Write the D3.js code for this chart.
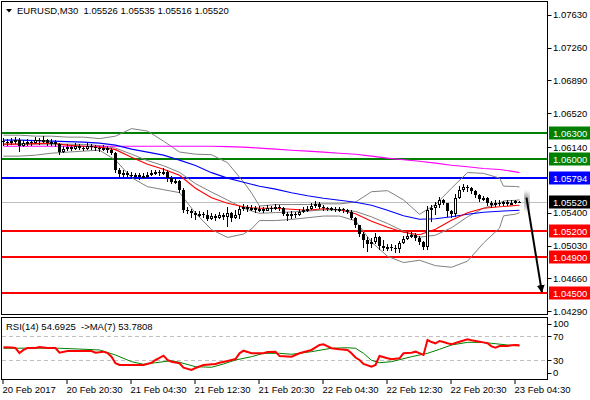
<!DOCTYPE html>
<html>
<head>
<meta charset="utf-8">
<script src="https://cdn.jsdelivr.net/npm/d3@7"></script>
<style>
body { margin: 0; background: #fff; }
text { font-family: "Liberation Sans", Arial, sans-serif; font-size: 9.5px; fill: #000; }
</style>
</head>
<body>
<script>
// EURUSD M30 candles, open of each bar = close of the bar before
const firstOpen = 1.06206;
const closes = [1.06195,1.06184,1.06206,1.06218,1.06150,1.06184,1.06195,1.06184,1.06218,1.06206,
  1.06218,1.06184,1.06195,1.06173,1.06082,1.06116,1.06139,1.06116,1.06150,1.06127,
  1.06116,1.06150,1.06139,1.06127,1.06116,1.06127,1.06105,1.06071,1.05879,1.05834,
  1.05846,1.05823,1.05812,1.05823,1.05801,1.05812,1.05823,1.05846,1.05857,1.05846,
  1.05857,1.05789,1.05744,1.05756,1.05654,1.05428,1.05417,1.05394,1.05372,1.05383,
  1.05372,1.05327,1.05361,1.05338,1.05372,1.05349,1.05394,1.05338,1.05372,1.05440,
  1.05462,1.05440,1.05451,1.05428,1.05440,1.05417,1.05451,1.05440,1.05462,1.05451,
  1.05383,1.05361,1.05383,1.05372,1.05406,1.05428,1.05440,1.05473,1.05496,1.05462,
  1.05451,1.05440,1.05445,1.05428,1.05440,1.05428,1.05406,1.05338,1.05259,1.05157,
  1.05090,1.05045,1.05067,1.05124,1.05022,1.05000,1.05011,1.05000,1.04988,1.05056,
  1.05101,1.05135,1.05146,1.05112,1.05067,1.05011,1.05428,1.05451,1.05485,1.05541,
  1.05507,1.05417,1.05383,1.05564,1.05654,1.05688,1.05676,1.05643,1.05597,1.05552,
  1.05564,1.05507,1.05485,1.05507,1.05496,1.05518,1.05496,1.05507,1.05526,1.05520];
const highs = [1.06240,1.06229,1.06240,1.06252,1.06240,1.06218,1.06229,1.06218,1.06252,1.06240,
  1.06263,1.06229,1.06229,1.06218,1.06184,1.06150,1.06173,1.06161,1.06184,1.06173,
  1.06150,1.06184,1.06173,1.06161,1.06150,1.06161,1.06150,1.06127,1.06082,1.05902,
  1.05879,1.05868,1.05857,1.05846,1.05846,1.05846,1.05857,1.05879,1.05879,1.05879,
  1.05902,1.05879,1.05812,1.05789,1.05767,1.05676,1.05462,1.05440,1.05417,1.05417,
  1.05406,1.05428,1.05394,1.05383,1.05406,1.05394,1.05462,1.05406,1.05428,1.05473,
  1.05496,1.05485,1.05485,1.05473,1.05473,1.05462,1.05485,1.05473,1.05496,1.05485,
  1.05462,1.05406,1.05417,1.05406,1.05440,1.05462,1.05473,1.05507,1.05530,1.05518,
  1.05485,1.05462,1.05462,1.05462,1.05462,1.05451,1.05440,1.05428,1.05349,1.05259,
  1.05180,1.05124,1.05112,1.05169,1.05135,1.05090,1.05045,1.05045,1.05033,1.05078,
  1.05135,1.05180,1.05180,1.05169,1.05135,1.05078,1.05473,1.05485,1.05518,1.05575,
  1.05552,1.05462,1.05428,1.05609,1.05699,1.05722,1.05710,1.05688,1.05654,1.05609,
  1.05586,1.05575,1.05530,1.05541,1.05541,1.05530,1.05541,1.05541,1.05541,1.05535];
const lows = [1.06150,1.06150,1.06161,1.06173,1.06082,1.06139,1.06150,1.06150,1.06173,1.06161,
  1.06184,1.06150,1.06150,1.06139,1.06049,1.06071,1.06094,1.06094,1.06105,1.06105,
  1.06094,1.06105,1.06105,1.06094,1.06082,1.06094,1.06071,1.06049,1.05846,1.05801,
  1.05801,1.05789,1.05789,1.05778,1.05767,1.05778,1.05789,1.05812,1.05823,1.05812,
  1.05823,1.05744,1.05722,1.05722,1.05620,1.05394,1.05383,1.05338,1.05315,1.05349,
  1.05338,1.05304,1.05315,1.05304,1.05327,1.05315,1.05237,1.05293,1.05327,1.05327,
  1.05417,1.05406,1.05417,1.05394,1.05406,1.05394,1.05417,1.05406,1.05428,1.05417,
  1.05361,1.05304,1.05327,1.05338,1.05361,1.05394,1.05406,1.05428,1.05451,1.05440,
  1.05417,1.05417,1.05417,1.05406,1.05406,1.05394,1.05383,1.05315,1.05225,1.05124,
  1.05000,1.04954,1.05000,1.05045,1.04977,1.04966,1.04966,1.04966,1.04943,1.04943,
  1.05045,1.05090,1.05112,1.05078,1.05033,1.04977,1.04977,1.05293,1.05372,1.05451,
  1.05485,1.05349,1.05338,1.05349,1.05552,1.05631,1.05631,1.05609,1.05564,1.05518,
  1.05530,1.05473,1.05451,1.05462,1.05473,1.05473,1.05473,1.05485,1.05496,1.05516];

// indicator lines, read at these bar positions
const lineBars = [0,4,8,12,16,20,24,28,32,36,40,44,48,52,56,60,62,64,68,72,76,80,84,88,92,96,100,104,108,112,116,120,124,125,128,129];
const bbUpper = [1.06274,1.06274,1.06263,1.06263,1.06252,1.06252,1.06235,1.06263,1.06348,1.06320,
  1.06207,1.06084,1.06060,1.06054,1.05964,1.05747,1.05624,1.05476,1.05492,1.05493,
  1.05493,1.05501,1.05500,1.05520,1.05637,1.05649,1.05545,1.05383,1.05493,1.05677,
  1.05853,1.05844,1.05791,1.05700,1.05696,1.05691];
const bbMid = [1.06173,1.06173,1.06173,1.06173,1.06173,1.06170,1.06157,1.06128,1.06060,1.05988,
  1.05930,1.05856,1.05728,1.05633,1.05543,1.05453,1.05421,1.05394,1.05402,1.05409,
  1.05419,1.05432,1.05432,1.05415,1.05354,1.05279,1.05192,1.05124,1.05148,1.05231,
  1.05354,1.05451,1.05507,1.05533,1.05540,1.05546];
const bbLower = [1.06038,1.06038,1.06049,1.06071,1.06083,1.06094,1.06105,1.05993,1.05795,1.05694,
  1.05660,1.05627,1.05395,1.05211,1.05122,1.05160,1.05218,1.05312,1.05312,1.05325,
  1.05344,1.05363,1.05363,1.05309,1.05070,1.04910,1.04839,1.04865,1.04804,1.04786,
  1.04855,1.05059,1.05227,1.05365,1.05385,1.05401];
const maRed = [1.06173,1.06173,1.06179,1.06184,1.06162,1.06150,1.06139,1.06111,1.06026,1.05947,
  1.05891,1.05823,1.05677,1.05570,1.05508,1.05468,1.05457,1.05451,1.05451,1.05440,
  1.05429,1.05446,1.05434,1.05389,1.05304,1.05237,1.05181,1.05152,1.05214,1.05315,
  1.05401,1.05451,1.05468,1.05470,1.05482,1.05485];
const maBlue = [1.06218,1.06218,1.06213,1.06207,1.06201,1.06196,1.06184,1.06162,1.06117,1.06083,
  1.06049,1.05993,1.05932,1.05852,1.05790,1.05744,1.05722,1.05699,1.05666,1.05626,
  1.05592,1.05564,1.05541,1.05519,1.05485,1.05429,1.05367,1.05327,1.05333,1.05355,
  1.05383,1.05406,1.05417,1.05420,1.05426,1.05429];
const maMagenta = [1.06150,1.06150,1.06150,1.06150,1.06150,1.06150,1.06150,1.06150,1.06150,1.06150,
  1.06150,1.06150,1.06150,1.06150,1.06145,1.06139,1.06134,1.06128,1.06117,1.06105,
  1.06094,1.06083,1.06071,1.06060,1.06038,1.06015,1.05998,1.05981,1.05959,1.05936,
  1.05919,1.05899,1.05888,1.05882,1.05861,1.05852];

// RSI(14) and its MA(7)
const rsiBars = [0,2,3,4,5,6,8,9,11,13,14,16,19,22,23,25,26,27,28,29,35,37,38,39,40,41,42,44,45,47,48,50,53,54,56,58,59,60,62,65,66,68,69,72,74,77,79,80,82,84,86,87,88,89,90,92,93,94,96,97,99,100,102,103,105,106,107,108,109,110,111,112,113,114,115,116,117,118,119,120,121,122,123,124,126,127,128,129];
const rsiVals = [51.4,51.1,50.2,42.0,47.0,50.2,50.2,51.9,50.2,50.2,42.5,45.3,45.3,45.3,42.5,44.2,42.0,35.9,25.1,22.3,22.3,26.0,30.5,33.8,37.6,30.5,27.7,25.1,17.8,14.0,17.3,22.3,23.9,26.0,28.8,32.1,41.5,45.8,41.5,41.5,43.7,44.2,37.1,35.9,41.5,47.0,55.2,56.3,49.8,48.1,47.0,41.5,34.6,30.5,23.9,19.5,22.3,37.1,33.3,31.6,33.3,41.5,42.5,44.2,38.7,63.4,60.0,58.0,61.8,60.0,58.0,56.3,58.5,60.6,62.5,64.6,63.0,61.8,60.6,59.5,58.0,53.0,50.7,53.5,53.5,54.7,55.0,54.69];
const rsiMaBars = [0,7,14,19,24,28,32,35,38,42,44,48,52,55,58,62,65,69,72,77,82,86,88,90,92,94,97,102,106,109,112,116,119,122,126,129];
const rsiMaVals = [49.8,50.0,49.8,48.5,47.0,38.7,27.7,23.4,26.0,29.3,26.7,19.5,18.5,23.9,30.5,35.9,41.5,41.5,39.9,44.2,49.8,50.7,49.8,41.5,30.0,26.0,27.7,35.9,41.5,48.1,55.2,59.6,59.6,58.0,55.2,53.78];

// support / resistance levels
const levelValues = [1.06300, 1.06000, 1.05794, 1.05200, 1.04900, 1.04500];
const levelColors = ['#008000', '#008000', '#0000ff', '#ff0000', '#ff0000', '#ff0000'];
const lastPrice = 1.05520;

// 1.05770 sits under the 1.05794 tag, so it is not listed
const priceTicks = ['1.07630','1.07260','1.06890','1.06520','1.06140','1.05400','1.05030','1.04660','1.04290'];
const rsiTicks = [100, 70, 30, 0];
const timeBars = [0,16,32,48,64,80,96,112,128];
const timeLabels = ['20 Feb 2017','20 Feb 20:30','21 Feb 04:30','21 Feb 12:30','21 Feb 20:30','22 Feb 04:30','22 Feb 12:30','22 Feb 20:30','23 Feb 04:30'];

// forecast arrow: from (bar, price) to (bar, price)
const arrowBars = [130.75, 134.6];
const arrowPrices = [1.05570, 1.04505];

let w = 590;
let h = 400;
let right = 547.5;

let svg = d3.select('body').append('svg')
  .attr('width', w)
  .attr('height', h);

let defs = svg.append('defs');
defs.append('clipPath').attr('id', 'mainClip')
  .append('rect').attr('x', 2).attr('y', 2).attr('width', 545).attr('height', 312);
defs.append('clipPath').attr('id', 'rsiClip')
  .append('rect').attr('x', 2).attr('y', 318).attr('width', 545).attr('height', 61);
defs.append('filter').attr('id', 'blur')
  .attr('x', '-50%').attr('y', '-50%').attr('width', '200%').attr('height', '200%')
  .append('feGaussianBlur').attr('stdDeviation', 2.2);
defs.append('marker').attr('id', 'head')
  .attr('viewBox', '0 0 10 10').attr('refX', 9).attr('refY', 5)
  .attr('markerWidth', 4).attr('markerHeight', 4).attr('orient', 'auto')
  .append('path').attr('d', 'M0,0 L10,5 L0,10 Z').attr('fill', '#000');

// scales
let x = d3.scaleLinear().domain([0, 129]).range([3.5, 519.5]);
let y = d3.scaleLinear().domain([1.04290, 1.07630]).range([311.3, 14.8]);
let yR = d3.scaleLinear().domain([0, 100]).range([378.5, 317.8]);

// panel frames
svg.append('rect').attr('x', 1.5).attr('y', 1.5).attr('width', right - 1.5).attr('height', 313)
  .attr('fill', 'none').attr('stroke', '#000');
svg.append('rect').attr('x', 1.5).attr('y', 317.5).attr('width', right - 1.5).attr('height', 62)
  .attr('fill', 'none').attr('stroke', '#000');

let main = svg.append('g').attr('clip-path', 'url(#mainClip)');

// current price line
main.append('line')
  .attr('x1', 2).attr('x2', right)
  .attr('y1', Math.round(y(lastPrice)) + 0.5).attr('y2', Math.round(y(lastPrice)) + 0.5)
  .attr('stroke', '#c0c0c0').attr('stroke-width', 1);

// levels
main.selectAll('.level')
  .data(levelValues)
  .enter()
  .append('line')
  .attr('class', 'level')
  .attr('x1', 2).attr('x2', right)
  .attr('y1', (d) => Math.round(y(d)))
  .attr('y2', (d) => Math.round(y(d)))
  .attr('stroke', (d, i) => levelColors[i])
  .attr('stroke-width', 2);

// indicator lines
let line = d3.line()
  .x((d) => x(d[0]))
  .y((d) => y(d[1]));

function series(vals) {
  return lineBars.map((b, i) => [b, vals[i]]);
}

[[bbUpper, '#808080', 1], [bbMid, '#808080', 1], [bbLower, '#808080', 1],
 [maMagenta, '#ff00ff', 1.1], [maBlue, '#0000ff', 1.1], [maRed, '#ff0000', 1.1]]
  .forEach((s) => {
    main.append('path')
      .attr('d', line(series(s[0])))
      .attr('fill', 'none')
      .attr('stroke', s[1])
      .attr('stroke-width', s[2]);
  });

// candles
let bars = closes.map((c, i) => ({
  i: i,
  o: i === 0 ? firstOpen : closes[i - 1],
  h: highs[i],
  l: lows[i],
  c: c
}));

let candles = main.append('g').attr('shape-rendering', 'crispEdges');

candles.selectAll('.wick')
  .data(bars)
  .enter()
  .append('line')
  .attr('class', 'wick')
  .attr('x1', (d) => x(d.i)).attr('x2', (d) => x(d.i))
  .attr('y1', (d) => y(Math.max(d.h, d.o, d.c)))
  .attr('y2', (d) => y(Math.min(d.l, d.o, d.c)))
  .attr('stroke', '#000');

candles.selectAll('.body')
  .data(bars)
  .enter()
  .append('rect')
  .attr('class', 'body')
  .attr('x', (d) => d.c >= d.o ? x(d.i) - 1 : x(d.i) - 1.5)
  .attr('y', (d) => d.c >= d.o ? y(d.c) : y(d.o))
  .attr('width', (d) => d.c >= d.o ? 2 : 3)
  .attr('height', (d) => Math.max(1, Math.abs(y(d.c) - y(d.o)) - (d.c >= d.o ? 1 : 0)))
  .attr('fill', (d) => d.c >= d.o ? '#fff' : '#000')
  .attr('stroke', (d) => d.c >= d.o ? '#000' : 'none');

// forecast arrow with soft shadow at its start
let ax0 = x(arrowBars[0]), ay0 = y(arrowPrices[0]);
let ax1 = x(arrowBars[1]), ay1 = y(arrowPrices[1]);
svg.append('line')
  .attr('x1', ax0 - 1).attr('y1', ay0 - 4)
  .attr('x2', ax0 + (ax1 - ax0) * 0.12).attr('y2', ay0 + (ay1 - ay0) * 0.12)
  .attr('stroke', '#9a9a9a').attr('stroke-width', 6)
  .attr('filter', 'url(#blur)');
svg.append('line')
  .attr('x1', ax0).attr('y1', ay0)
  .attr('x2', ax1).attr('y2', ay1)
  .attr('stroke', '#000').attr('stroke-width', 2)
  .attr('marker-end', 'url(#head)');

// price axis
let pAxis = svg.append('g');
pAxis.selectAll('line')
  .data(priceTicks)
  .enter()
  .append('line')
  .attr('x1', right).attr('x2', right + 4)
  .attr('y1', (d) => Math.round(y(+d)) + 0.5)
  .attr('y2', (d) => Math.round(y(+d)) + 0.5)
  .attr('stroke', '#000');
pAxis.selectAll('text')
  .data(priceTicks)
  .enter()
  .append('text')
  .attr('x', 553)
  .attr('y', (d) => y(+d) + 3.5)
  .text((d) => d);

// level labels
let tags = svg.append('g');
let tagValues = levelValues.concat([lastPrice]);
let tagColors = levelColors.concat(['#000']);
tags.selectAll('rect')
  .data(tagValues)
  .enter()
  .append('rect')
  .attr('x', 549).attr('y', (d) => Math.round(y(d)) - 6.5)
  .attr('width', 41).attr('height', 13)
  .attr('fill', (d, i) => tagColors[i]);
tags.selectAll('text')
  .data(tagValues)
  .enter()
  .append('text')
  .attr('x', 553)
  .attr('y', (d) => Math.round(y(d)) + 3.5)
  .style('fill', '#fff')
  .text((d) => d.toFixed(5));

// title
svg.append('path').attr('d', 'M6,9 L12,9 L9,12.5 Z').attr('fill', '#000');
svg.append('text').attr('x', 17).attr('y', 14)
  .attr('xml:space', 'preserve')
  .text('EURUSD,M30  1.05526 1.05535 1.05516 1.05520');

// RSI panel
let rsi = svg.append('g').attr('clip-path', 'url(#rsiClip)');
rsi.selectAll('.guide')
  .data([70, 30])
  .enter()
  .append('line')
  .attr('class', 'guide')
  .attr('x1', 2).attr('x2', right)
  .attr('y1', (d) => Math.round(yR(d)) + 0.5)
  .attr('y2', (d) => Math.round(yR(d)) + 0.5)
  .attr('stroke', '#c0c0c0')
  .attr('stroke-dasharray', '4,3');

let rLine = d3.line()
  .x((d) => x(d[0]))
  .y((d) => yR(d[1]));

rsi.append('path')
  .attr('d', rLine(rsiMaBars.map((b, i) => [b, rsiMaVals[i]])))
  .attr('fill', 'none').attr('stroke', '#008000').attr('stroke-width', 1);
rsi.append('path')
  .attr('d', rLine(rsiBars.map((b, i) => [b, rsiVals[i]])))
  .attr('fill', 'none').attr('stroke', '#ff0000').attr('stroke-width', 2);

svg.append('text').attr('x', 6).attr('y', 329.5)
  .attr('xml:space', 'preserve')
  .text('RSI(14) 54.6925  ->MA(7) 53.7808');

// RSI axis, end labels kept inside the panel like the terminal does
let rPos = (d) => d === 100 ? yR(d) + 6 : d === 0 ? yR(d) - 6 : yR(d);
let rAxis = svg.append('g');
rAxis.selectAll('line')
  .data(rsiTicks)
  .enter()
  .append('line')
  .attr('x1', right).attr('x2', right + 4)
  .attr('y1', (d) => Math.round(rPos(d)) + 0.5)
  .attr('y2', (d) => Math.round(rPos(d)) + 0.5)
  .attr('stroke', '#000');
rAxis.selectAll('text')
  .data(rsiTicks)
  .enter()
  .append('text')
  .attr('x', 553)
  .attr('y', (d) => rPos(d) + 3.5)
  .text((d) => d);

// time axis
let tAxis = svg.append('g');
tAxis.selectAll('line')
  .data(timeBars)
  .enter()
  .append('line')
  .attr('x1', (d) => x(d) - 0.5).attr('x2', (d) => x(d) - 0.5)
  .attr('y1', 379.5).attr('y2', 384)
  .attr('stroke', '#000');
tAxis.selectAll('text')
  .data(timeBars)
  .enter()
  .append('text')
  .attr('x', (d) => x(d) - 1)
  .attr('y', 393)
  .text((d, i) => timeLabels[i]);
</script>
</body>
</html>
